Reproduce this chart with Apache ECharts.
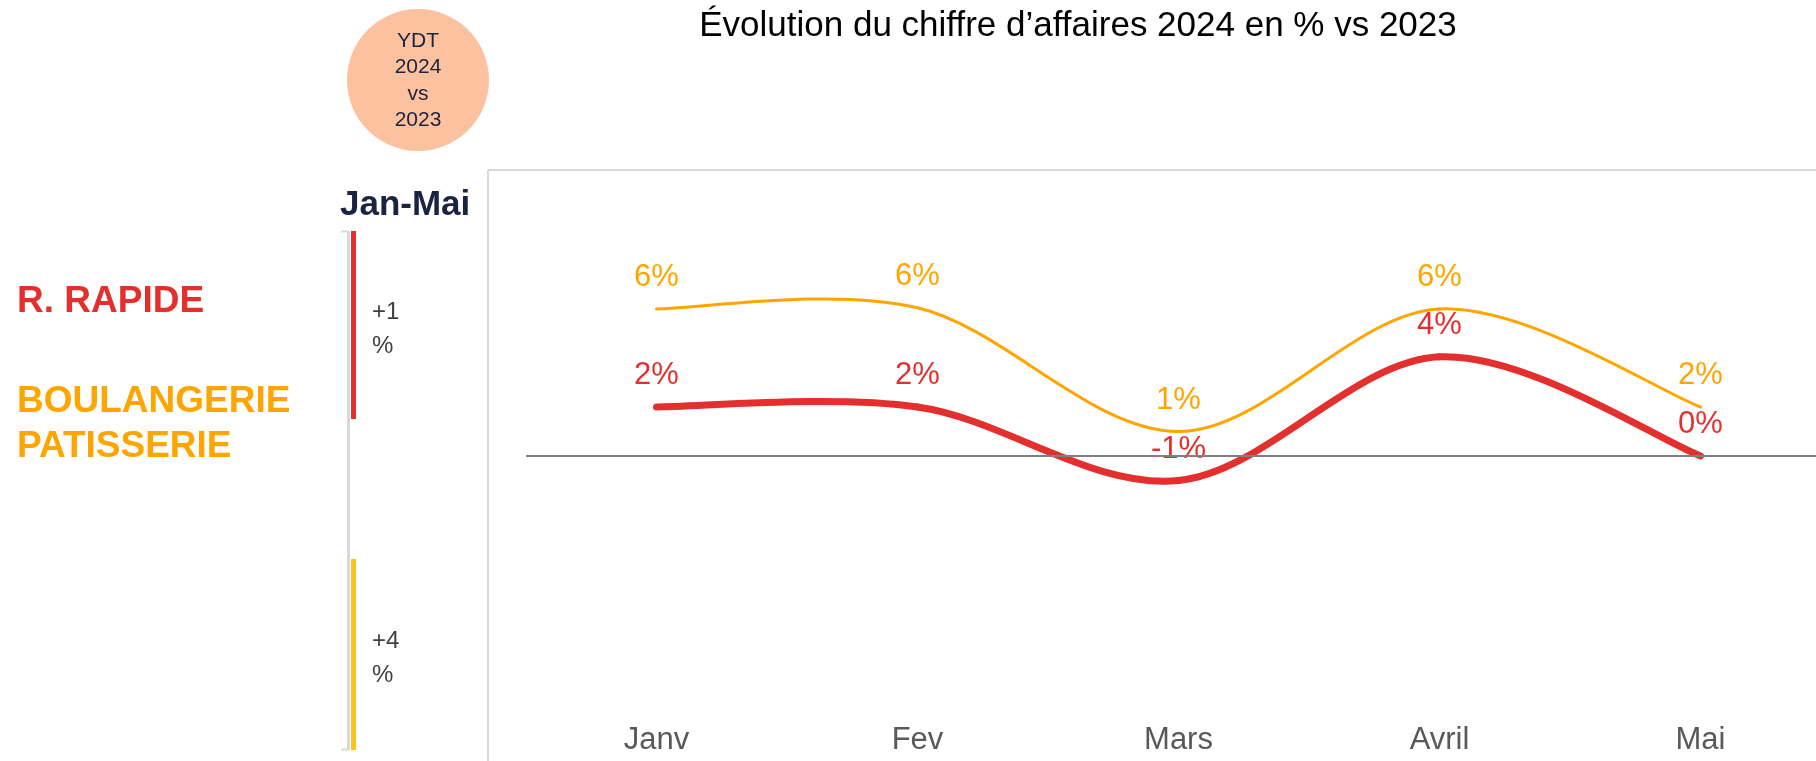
<!DOCTYPE html>
<html>
<head>
<meta charset="utf-8">
<script src="https://cdn.jsdelivr.net/npm/echarts@6/dist/echarts.min.js"></script>
<style>
html,body{margin:0;padding:0;background:#fff;}
#chart{width:1816px;height:761px;}
</style>
</head>
<body>
<div id="chart"></div>
<script>
// ---- data ----
var categories = ['Janv', 'Fev', 'Mars', 'Avril', 'Mai'];
var seriesNames = ['BOULANGERIE PATISSERIE', 'R. RAPIDE'];
var boulangerieValues = [6.0, 6.05, 1.0, 6.0, 2.0];
var rapideValues = [2.0, 2.0, -1.0, 4.05, 0.0];
var titleText = 'Évolution du chiffre d’affaires 2024 en % vs 2023';
var bubbleLines = ['YDT', '2024', 'vs', '2023'];
var periodLabel = 'Jan-Mai';
var ytdRapide = ['+1', '%'];
var ytdBoulangerie = ['+4', '%'];

var FONT = '"Liberation Sans", Arial, sans-serif';
var RED = '#E3302F';
var ORANGE = '#FFA500';
var NAVY = '#1B2340';

function pct(p) { return Math.round(p.value) + '%'; }

function txt(x, y, text, size, color, weight, align) {
  return {
    type: 'text', silent: true,
    style: {
      x: x, y: y, text: text,
      font: (weight || 'normal') + ' ' + size + 'px ' + FONT,
      fill: color, align: align || 'left', verticalAlign: 'middle'
    }
  };
}

// spline segment renderer (Catmull-Rom style, like office smoothed lines)
function splineRenderer(color, width) {
  return function (params, api) {
    var n = params.dataInsideLength;
    var i = params.dataIndexInside;
    if (i >= n - 1) return null;
    function pt(j) {
      j = Math.max(0, Math.min(n - 1, j));
      return api.coord([api.value(0, j), api.value(1, j)]);
    }
    var p0 = pt(i - 1), p1 = pt(i), p2 = pt(i + 1), p3 = pt(i + 2);
    var t = 1 / 6;
    return {
      type: 'bezierCurve',
      silent: true,
      shape: {
        x1: p1[0], y1: p1[1], x2: p2[0], y2: p2[1],
        cpx1: p1[0] + (p2[0] - p0[0]) * t, cpy1: p1[1] + (p2[1] - p0[1]) * t,
        cpx2: p2[0] - (p3[0] - p1[0]) * t, cpy2: p2[1] - (p3[1] - p1[1]) * t
      },
      style: { stroke: color, lineWidth: width, fill: null, lineCap: 'round' }
    };
  };
}

var graphics = [
  // chart frame (top & left edges)
  { type: 'line', silent: true, shape: { x1: 488, y1: 170, x2: 1816, y2: 170 }, style: { stroke: '#D9D9D9', lineWidth: 2 } },
  { type: 'line', silent: true, shape: { x1: 488, y1: 170, x2: 488, y2: 761 }, style: { stroke: '#D9D9D9', lineWidth: 2 } },
  // YTD bubble
  { type: 'circle', silent: true, shape: { cx: 418, cy: 80, r: 71 }, style: { fill: '#FCC19F' } },
  txt(418, 41, bubbleLines[0], 21, NAVY, 'normal', 'center'),
  txt(418, 67.5, bubbleLines[1], 21, NAVY, 'normal', 'center'),
  txt(418, 94.5, bubbleLines[2], 21, NAVY, 'normal', 'center'),
  txt(418, 120.5, bubbleLines[3], 21, NAVY, 'normal', 'center'),
  // period label
  txt(340, 205, periodLabel, 35, NAVY, 'bold', 'left'),
  // legend-like labels
  txt(17, 302, 'R. RAPIDE', 37, RED, 'bold', 'left'),
  txt(17, 402, 'BOULANGERIE', 37, ORANGE, 'bold', 'left'),
  txt(17, 447, 'PATISSERIE', 37, ORANGE, 'bold', 'left'),
  // bracket
  { type: 'line', silent: true, shape: { x1: 348.5, y1: 231, x2: 348.5, y2: 750 }, style: { stroke: '#D9D9D9', lineWidth: 3 } },
  { type: 'line', silent: true, shape: { x1: 341, y1: 231.5, x2: 349, y2: 231.5 }, style: { stroke: '#D9D9D9', lineWidth: 2 } },
  { type: 'line', silent: true, shape: { x1: 341, y1: 749.5, x2: 349, y2: 749.5 }, style: { stroke: '#D9D9D9', lineWidth: 2 } },
  { type: 'rect', silent: true, shape: { x: 351, y: 231, width: 5, height: 188 }, style: { fill: RED } },
  { type: 'rect', silent: true, shape: { x: 351, y: 559, width: 5, height: 191 }, style: { fill: '#FAC21E' } },
  txt(372, 312, ytdRapide[0], 24, '#404040', 'normal', 'left'),
  txt(372, 346.5, ytdRapide[1], 24, '#404040', 'normal', 'left'),
  txt(372, 641.5, ytdBoulangerie[0], 24, '#404040', 'normal', 'left'),
  txt(372, 675.5, ytdBoulangerie[1], 24, '#404040', 'normal', 'left'),
  // title
  txt(1078, 26, titleText, 35, '#000000', 'normal', 'center')
];

var chart = echarts.init(document.getElementById('chart'), null, { renderer: 'canvas' });
chart.setOption({
  animation: false,
  backgroundColor: '#ffffff',
  textStyle: { fontFamily: FONT },
  graphic: graphics,
  grid: { left: 526, top: 211, width: 1305, height: 490, containLabel: false, outerBoundsMode: 'none' },
  xAxis: {
    type: 'category',
    data: categories,
    boundaryGap: true,
    axisLine: { show: false, onZero: false },
    axisTick: { show: false },
    splitLine: { show: false },
    axisLabel: { color: '#595959', fontSize: 31, fontFamily: FONT, margin: 24 }
  },
  yAxis: {
    type: 'value', min: -10, max: 10,
    show: false,
    splitLine: { show: false }
  },
  series: [
    {
      name: seriesNames[0] + ' curve',
      type: 'custom',
      clip: false,
      renderItem: splineRenderer(ORANGE, 3),
      data: boulangerieValues.map(function (v, i) { return [categories[i], v]; }),
      z: 3
    },
    {
      name: seriesNames[1] + ' curve',
      type: 'custom',
      clip: false,
      renderItem: splineRenderer(RED, 7),
      data: rapideValues.map(function (v, i) { return [categories[i], v]; }),
      z: 4
    },
    {
      name: seriesNames[0],
      type: 'line',
      data: boulangerieValues,
      symbol: 'circle', symbolSize: 2,
      itemStyle: { color: ORANGE },
      lineStyle: { opacity: 0 },
      label: { show: true, position: 'top', distance: 15, formatter: pct, color: ORANGE, fontSize: 31, fontFamily: FONT },
      z: 5
    },
    {
      name: seriesNames[1],
      type: 'line',
      data: rapideValues,
      symbol: 'circle', symbolSize: 2,
      itemStyle: { color: RED },
      lineStyle: { opacity: 0 },
      label: { show: true, position: 'top', distance: 15, formatter: pct, color: RED, fontSize: 31, fontFamily: FONT },
      markLine: {
        silent: true,
        symbol: ['none', 'none'],
        label: { show: false },
        lineStyle: { color: '#808080', width: 2, type: 'solid' },
        data: [{ yAxis: 0 }]
      },
      z: 2
    }
  ]
});
</script>
</body>
</html>
